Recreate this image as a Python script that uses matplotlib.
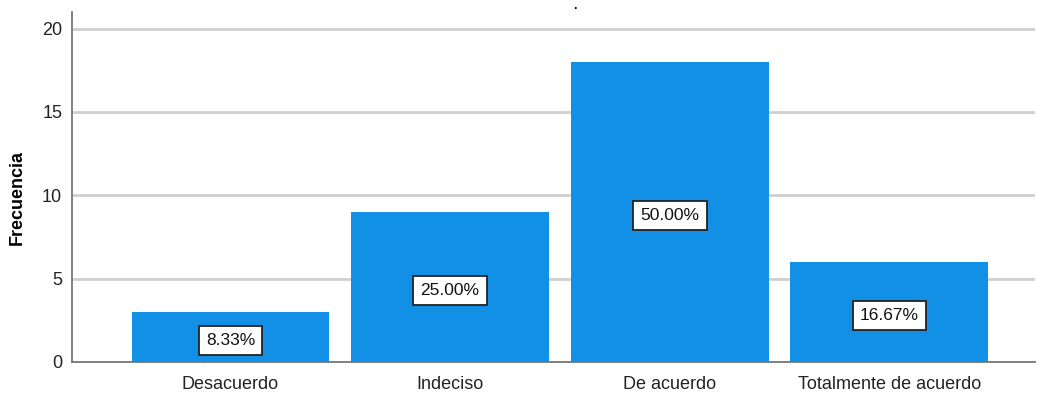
import matplotlib
matplotlib.use('Agg')
import matplotlib.pyplot as plt

categorias = ['Desacuerdo', 'Indeciso', 'De acuerdo', 'Totalmente de acuerdo']
frecuencia = [3, 9, 18, 6]
porcentaje = ['8.33%', '25.00%', '50.00%', '16.67%']

plt.rcParams['font.family'] = ['Liberation Sans', 'DejaVu Sans']

fig = plt.figure(figsize=(10.37, 3.96), dpi=100)
ax = fig.add_axes([0.0694, 0.0859, 0.929, 0.884])

x = range(len(categorias))
ax.bar(x, frecuencia, width=0.9, color='#1190E6', zorder=3)
for i, v in enumerate(frecuencia):
    ax.text(i, v / 2 - 0.22, porcentaje[i], ha='center', va='center', fontsize=12.5,
            color='#111111', zorder=4,
            bbox=dict(boxstyle='square,pad=0.42', fc='white', ec='#222222', lw=1.3))

ax.set_xlim(-0.722, 3.665)
ax.set_ylim(0, 21)
ax.set_yticks([0, 5, 10, 15, 20])
ax.set_xticks(list(x))
ax.set_xticklabels(categorias)
ax.grid(axis='y', color='#cfcfcf', lw=2, zorder=0)
ax.tick_params(length=0, labelsize=13, colors='#222222')
ax.tick_params(axis='x', pad=10)
ax.tick_params(axis='y', pad=7)
for s in ['top', 'right']:
    ax.spines[s].set_visible(False)
for s in ['left', 'bottom']:
    ax.spines[s].set_color('#777777')
    ax.spines[s].set_linewidth(1.3)
ax.set_ylabel('Frecuencia', fontsize=13, fontweight='bold')
ax.yaxis.set_label_coords(-0.048, 0.47)

# punto suelto del titulo recortado
fig.text(575 / 1037, 1 - 6 / 396, '.', fontsize=9, fontweight='bold', ha='center', va='center')

fig.savefig('out.png', dpi=100)
